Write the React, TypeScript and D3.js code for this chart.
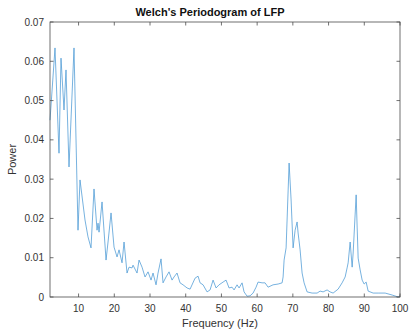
import React from "react";
import * as d3 from "d3";

const freqs = [2.0,3.4,4.52,5.08,5.92,6.48,7.32,8.72,9.84,10.4,11.8,12.64,13.48,14.32,15.17,15.45,15.73,16.57,17.69,18.25,19.09,19.93,20.77,21.33,22.17,22.73,23.57,24.13,24.97,25.25,26.37,26.93,27.77,28.61,29.45,30.29,30.85,31.69,32.25,33.09,33.65,34.49,35.33,36.17,36.73,37.57,38.41,39.25,40.38,41.22,42.62,43.46,44.02,44.86,45.98,46.82,47.66,48.5,49.34,50.46,51.3,52.14,52.98,53.54,54.38,54.94,55.78,56.34,57.18,58.02,58.86,59.7,60.26,61.38,62.22,63.06,64.46,65.87,66.99,67.27,67.55,68.11,68.95,69.51,70.07,70.63,71.19,71.47,72.03,72.59,73.15,73.99,75.39,76.79,77.63,78.47,79.59,80.43,81.27,82.67,83.79,84.64,85.19,85.48,86.04,86.6,86.88,87.72,88.0,88.28,88.84,89.4,89.96,90.52,91.08,92.48,93.88,95.84,97.8,99.48,100];
const power = [0.045,0.0634,0.0366,0.0608,0.0476,0.0578,0.0331,0.0634,0.017,0.0298,0.0196,0.0153,0.0125,0.0275,0.017,0.0188,0.0165,0.0242,0.0094,0.014,0.0214,0.0127,0.0102,0.012,0.0087,0.014,0.0061,0.0076,0.0074,0.0081,0.0061,0.0094,0.0076,0.0051,0.0064,0.0043,0.0061,0.0031,0.0061,0.0097,0.0036,0.0051,0.0064,0.0043,0.0051,0.0061,0.0036,0.0031,0.0023,0.002,0.0048,0.0053,0.0036,0.0031,0.0013,0.0018,0.0043,0.0023,0.0031,0.0038,0.0043,0.0023,0.0025,0.0018,0.0031,0.0023,0.0036,0.0013,0.0002,0.0003,0.001,0.0025,0.0038,0.0036,0.0036,0.0025,0.0031,0.0033,0.0036,0.0051,0.0094,0.0125,0.0341,0.0247,0.0125,0.017,0.0191,0.0163,0.012,0.0061,0.0036,0.0013,0.001,0.001,0.0015,0.0013,0.0018,0.0013,0.001,0.002,0.0036,0.0051,0.0074,0.0087,0.014,0.0076,0.0112,0.026,0.0178,0.0099,0.0069,0.0043,0.0033,0.0038,0.0015,0.001,0.001,0.001,0.0005,0.0,0.0003];

const xTicks = [10,20,30,40,50,60,70,80,90,100];
const yTicks = [0,0.01,0.02,0.03,0.04,0.05,0.06,0.07];
const yTickLabels = ["0","0.01","0.02","0.03","0.04","0.05","0.06","0.07"];

const W = 410, H = 330;
const L = 50, R = 400, T = 22, B = 297;
const axisColor = "#4d4d4d";
const font = "'Liberation Sans', Arial, Helvetica, sans-serif";

export default function App() {
  const x = d3.scaleLinear().domain([2, 100]).range([L, R]);
  const y = d3.scaleLinear().domain([0, 0.07]).range([B, T]);
  const line = d3.line<number>().x((_, i) => x(freqs[i])).y((d) => y(d));
  const pathD = line(power) || "";
  const tl = 3.5;
  return (
    <svg width={W} height={H} style={{ position: "absolute", left: 0, top: 0, background: "#fff" }}>
      <rect x={0} y={0} width={W} height={H} fill="#fff" />
      <path d={pathD} fill="none" stroke="#4a98d4" strokeWidth={0.75} strokeLinejoin="round" />
      <rect x={L} y={T} width={R - L} height={B - T} fill="none" stroke={axisColor} strokeWidth={0.8} />
      {xTicks.map((t) => (
        <g key={"x" + t}>
          <line x1={x(t)} x2={x(t)} y1={B} y2={B - tl} stroke={axisColor} strokeWidth={0.8} />
          <line x1={x(t)} x2={x(t)} y1={T} y2={T + tl} stroke={axisColor} strokeWidth={0.8} />
          <text x={x(t)} y={312} textAnchor="middle" fontSize={10} fontFamily={font} fill="#333">{t}</text>
        </g>
      ))}
      {yTicks.map((t, i) => (
        <g key={"y" + t}>
          <line x1={L} x2={L + tl} y1={y(t)} y2={y(t)} stroke={axisColor} strokeWidth={0.8} />
          <line x1={R} x2={R - tl} y1={y(t)} y2={y(t)} stroke={axisColor} strokeWidth={0.8} />
          <text x={44} y={y(t) + 3.5} textAnchor="end" fontSize={10} fontFamily={font} fill="#333">{yTickLabels[i]}</text>
        </g>
      ))}
      <text x={210} y={16} textAnchor="middle" fontSize={11} fontWeight="bold" fontFamily={font} fill="#111">Welch's Periodogram of LFP</text>
      <text x={220} y={327} textAnchor="middle" fontSize={11} fontFamily={font} fill="#333">Frequency (Hz)</text>
      <text transform={`translate(16,${(T + B) / 2}) rotate(-90)`} textAnchor="middle" fontSize={11} fontFamily={font} fill="#333">Power</text>
    </svg>
  );
}
